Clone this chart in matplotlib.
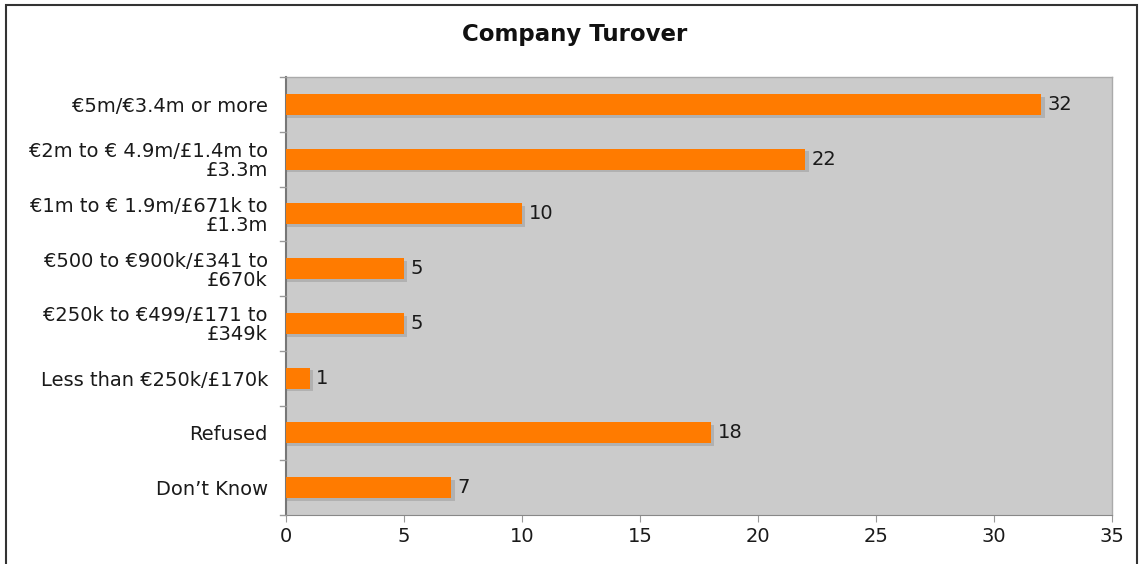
import matplotlib
matplotlib.use("Agg")
import matplotlib.pyplot as plt
from matplotlib.patches import Rectangle

categories = [
    "€5m/€3.4m or more",
    "€2m to € 4.9m/£1.4m to\n£3.3m",
    "€1m to € 1.9m/£671k to\n£1.3m",
    "€500 to €900k/£341 to\n£670k",
    "€250k to €499/£171 to\n£349k",
    "Less than €250k/£170k",
    "Refused",
    "Don’t Know",
]
values = [32, 22, 10, 5, 5, 1, 18, 7]
xticks = [0, 5, 10, 15, 20, 25, 30, 35]

W, H = 1143, 564
FS = 14
fig = plt.figure(figsize=(W / 100, H / 100), dpi=100)
fig.patch.set_facecolor("white")

# outer frame
fig.patches.append(Rectangle((6 / W, -0.05), (1137 - 6) / W, 1.05 - 5 / H,
                             transform=fig.transFigure, fill=False,
                             edgecolor="#333333", linewidth=1.5))

ax = fig.add_axes([286 / W, 1 - 515 / H, (1112 - 286) / W, (515 - 77) / H])
ax.set_facecolor("#cbcbcb")

n = len(categories)
ypos = list(range(n))
bar_h = 0.38
# soft drop shadow behind each bar
ax.barh([y + 0.05 for y in ypos], [v + 0.14 for v in values], height=bar_h,
        color="#a0a0a0", alpha=0.6, zorder=2)
ax.barh(ypos, values, height=bar_h, color="#ff7b00", zorder=3)

for y, v in zip(ypos, values):
    ax.text(v + 0.28, y, str(v), va="center", ha="left", fontsize=FS,
            color="#1a1a1a", zorder=4)

ax.set_xlim(0, 35)
ax.set_ylim(n - 0.5, -0.5)
ax.set_xticks(xticks)
ax.set_xticklabels([str(t) for t in xticks], fontsize=FS, color="#1a1a1a")
ax.set_yticks(ypos)
ax.set_yticklabels(categories, fontsize=FS, color="#1a1a1a",
                   multialignment="right", linespacing=1.0)
ax.tick_params(axis="y", length=0, pad=13)
ax.tick_params(axis="x", length=5, color="#999999", pad=4, direction="out")

# category boundary ticks on the left
for b in [i - 0.5 for i in range(n + 1)]:
    ax.plot([-0.25, 0], [b, b], color="#999999", lw=1, clip_on=False, zorder=5)

for s in ["top", "right"]:
    ax.spines[s].set_color("#aaaaaa")
    ax.spines[s].set_linewidth(1)
ax.spines["bottom"].set_color("#888888")
ax.spines["left"].set_color("#777777")
ax.spines["left"].set_linewidth(1.5)

fig.text(575 / W, 1 - 35 / H, "Company Turover", ha="center", va="center",
         fontsize=16.5, fontweight="bold", color="#111111")

fig.savefig("out.png", dpi=100)
